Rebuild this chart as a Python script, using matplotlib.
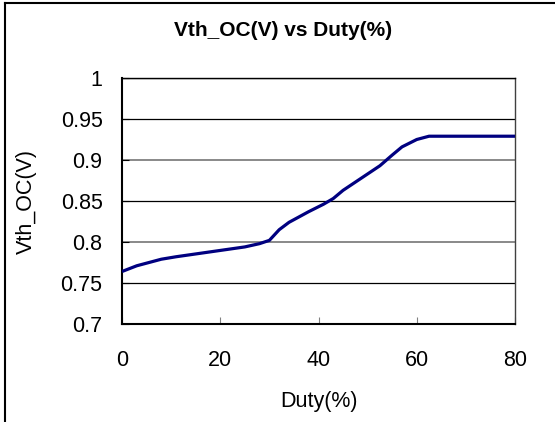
import matplotlib
matplotlib.use("Agg")
import matplotlib.pyplot as plt
from matplotlib.lines import Line2D

plt.rcParams['font.family'] = ['Liberation Sans', 'DejaVu Sans']

duty = [0, 3, 5.5, 8, 11, 18, 25, 28, 30, 32, 34, 38, 41, 43, 45, 48.5, 52.5, 55, 57, 60, 62.5, 70, 80]
vth = [0.764, 0.771, 0.775, 0.779, 0.782, 0.788, 0.794, 0.798, 0.802, 0.815, 0.824, 0.837, 0.846, 0.853, 0.863, 0.877, 0.893, 0.906, 0.916, 0.925, 0.929, 0.929, 0.929]
xticks = [0, 20, 40, 60, 80]
yticks = [0.7, 0.75, 0.8, 0.85, 0.9, 0.95, 1.0]
ytick_labels = ['0.7', '0.75', '0.8', '0.85', '0.9', '0.95', '1']

fig = plt.figure(figsize=(5.55, 4.22), dpi=100)
ax = fig.add_axes([122/555, 1-324/422, (515-122)/555, (324-78)/422])

ax.plot(duty, vth, color='#000080', lw=2.3, solid_capstyle='butt', zorder=3)
ax.set_xlim(0, 80)
ax.set_ylim(0.7, 1.0)
ax.set_xticks(xticks)
ax.set_xticklabels([str(v) for v in xticks])
ax.set_yticks(yticks)
ax.set_yticklabels(ytick_labels)
ax.tick_params(axis='x', direction='in', length=5, color='#808080', pad=19, labelsize=15.5)
ax.tick_params(axis='y', direction='in', length=5, color='black', pad=14, labelsize=15.5)
ax.grid(axis='y', color='black', lw=0.9)
for i, gl in enumerate(ax.get_ygridlines()):
    if i in (2, 4):
        gl.set_color('#808080')
        gl.set_linewidth(1.3)
for s in ax.spines.values():
    s.set_linewidth(1.0)
ax.spines['bottom'].set_linewidth(1.5)
ax.spines['left'].set_linewidth(1.5)
ax.spines['right'].set_color('#404040')

ax.set_xlabel('Duty(%)', fontsize=15.5, labelpad=14)
ax.set_ylabel('Vth_OC(V)', fontsize=15.5, labelpad=17)
fig.text(283/555, 1-31/422, 'Vth_OC(V) vs Duty(%)', ha='center', va='center', fontsize=15, fontweight='bold')

fig.add_artist(Line2D([5/555, 5/555], [0, 1-3/422], transform=fig.transFigure, color='black', lw=1.5))
fig.add_artist(Line2D([5/555, 1], [1-3/422, 1-3/422], transform=fig.transFigure, color='black', lw=1.5))

fig.savefig('out.png', dpi=100)
